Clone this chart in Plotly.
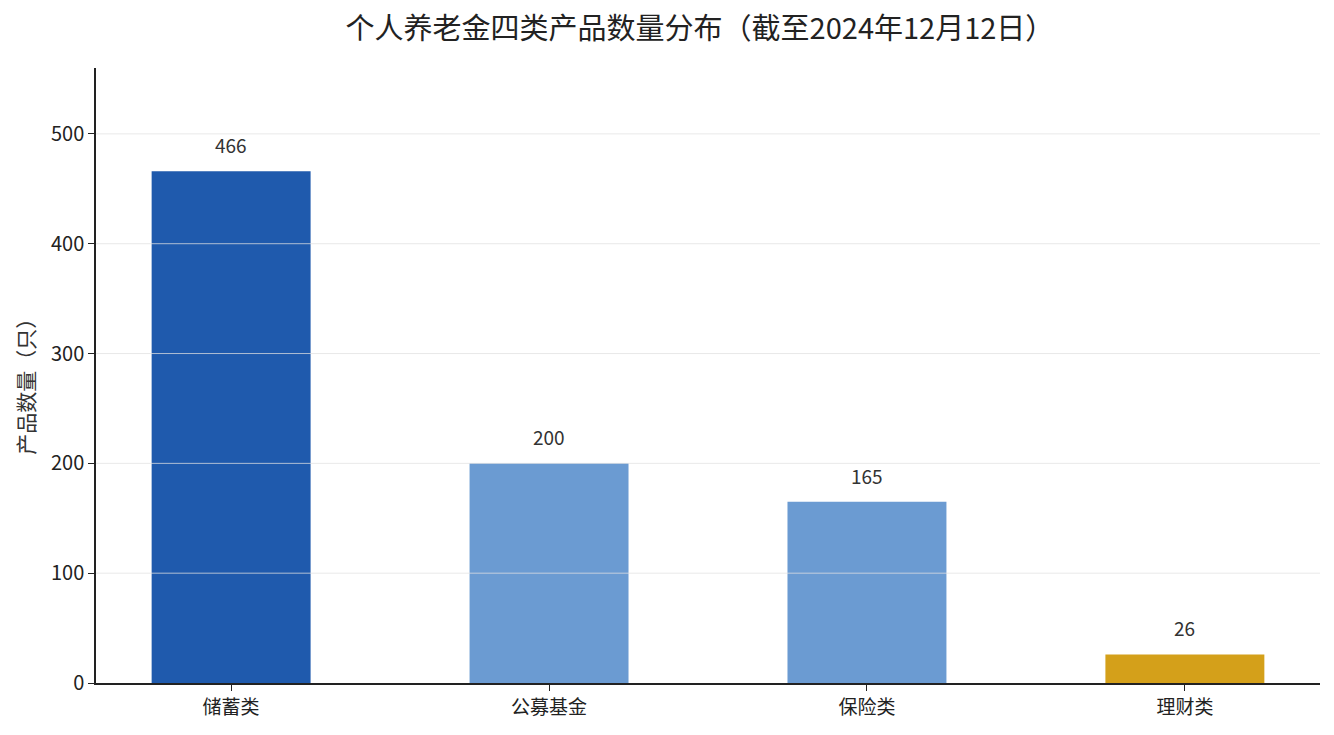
import plotly.graph_objects as go

# Data
categories = ["储蓄类", "公募基金", "保险类", "理财类"]
counts = [466, 200, 165, 26]
colors = ["#1f5aad", "#6b9bd2", "#6b9bd2", "#d4a01a"]
y_ticks = [0, 100, 200, 300, 400, 500]

FONT = "Noto Sans CJK SC"

fig = go.Figure(go.Bar(
    x=categories,
    y=counts,
    marker=dict(color=colors, line=dict(width=0)),
    width=0.5,
    hoverinfo="x+y",
))

# value labels above bars
for c, v in zip(categories, counts):
    fig.add_annotation(
        x=c, y=v, text=str(v), showarrow=False,
        yanchor="bottom", yshift=11,
        font=dict(family=FONT, size=19, color="#333333"),
    )

# light grid lines drawn over the bars
for t in y_ticks[1:]:
    fig.add_shape(
        type="line", xref="paper", x0=0, x1=1, y0=t, y1=t,
        layer="above", line=dict(color="rgba(225,225,225,0.75)", width=1),
    )

# y axis title placed as an annotation so it sits further left
fig.add_annotation(
    text="产品数量（只）", textangle=-90, showarrow=False,
    xref="paper", yref="paper", x=-71 / 1224, y=0.49,
    xanchor="center", yanchor="middle",
    font=dict(family=FONT, size=21, color="#333333"),
)

# page body adds an 8px offset, so the figure is sized to fit the window
fig.update_layout(
    width=1326,
    height=727,
    margin=dict(l=88, r=14, t=60, b=52),
    paper_bgcolor="white",
    plot_bgcolor="white",
    font=dict(family=FONT, color="#222222"),
    title=dict(
        text="个人养老金四类产品数量分布（截至2024年12月12日）",
        font=dict(family=FONT, size=29, color="#222222"),
        x=692 / 1326, xref="container", xanchor="center",
        y=1 - 21 / 727, yref="container", yanchor="middle",
    ),
    xaxis=dict(
        range=[-0.425, 3.425],
        showline=True, linecolor="#222222", linewidth=1.5,
        ticks="outside", ticklen=6, tickcolor="#222222", tickwidth=1.2,
        tickfont=dict(family=FONT, size=19, color="#222222"),
        showgrid=False, zeroline=False,
    ),
    yaxis=dict(
        range=[0, 560],
        tickvals=y_ticks,
        showline=True, linecolor="#222222", linewidth=1.5,
        ticks="outside", ticklen=6, tickcolor="#222222", tickwidth=1.2,
        tickfont=dict(family=FONT, size=20, color="#222222"),
        showgrid=False, zeroline=False,
    ),
    showlegend=False,
)

fig.write_html("out.html")
